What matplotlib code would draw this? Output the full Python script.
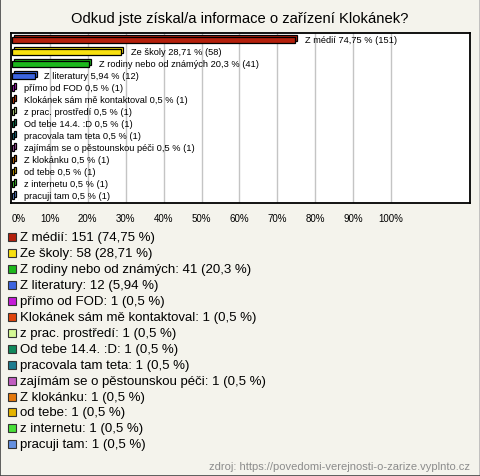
import numpy as np
import matplotlib
matplotlib.use("Agg")
import matplotlib.pyplot as plt
from matplotlib.patches import Rectangle
from matplotlib.transforms import ScaledTranslation

plt.rcParams['font.family'] = ['Liberation Sans', 'DejaVu Sans']

# -------------------------------------------------
# dados
# -------------------------------------------------

title = "Odkud jste získal/a informace o zařízení Klokánek?"
source = "zdroj: https://povedomi-verejnosti-o-zarize.vyplnto.cz"

labels = [
    "Z médií", "Ze školy", "Z rodiny nebo od známých", "Z literatury",
    "přímo od FOD", "Klokánek sám mě kontaktoval", "z prac. prostředí",
    "Od tebe 14.4. :D", "pracovala tam teta", "zajímám se o pěstounskou péči",
    "Z klokánku", "od tebe", "z internetu", "pracuji tam",
]
counts = [151, 58, 41, 12, 1, 1, 1, 1, 1, 1, 1, 1, 1, 1]
percents = [74.75, 28.71, 20.3, 5.94, 0.5, 0.5, 0.5, 0.5, 0.5, 0.5, 0.5, 0.5, 0.5, 0.5]
colors = [
    "#b4200c", "#f8e010", "#1cb81c", "#3c64e0", "#c41cd8", "#e0440c",
    "#d4f894", "#10885c", "#1c7c90", "#c05cc0", "#e4780c", "#e4b400",
    "#48e038", "#6490e0",
]
xticks = [0, 10, 20, 30, 40, 50, 60, 70, 80, 90, 100]

bg = "#f4f3ec"


def fmt(p):
    return f"{p:g}".replace(".", ",")


# -------------------------------------------------
# figura
# -------------------------------------------------

fig = plt.figure(figsize=(4.8, 4.77), dpi=100, facecolor=bg)
W, H = 480, 477

fig.text(0.5, 1 - 18.5 / H, title, ha="center", va="center", fontsize=10.6)

ax = fig.add_axes([11 / W, 1 - 204 / H, 459 / W, 170 / H])
ax.set_facecolor("white")
px = 10 / 37.9
ax.set_xlim(-1 * px, 458 * px)
n = len(labels)
ax.set_ylim(n - 0.42, -0.58)

for x in xticks[1:]:
    ax.axvline(x, color="#c4c4c4", lw=1, zorder=0)

# barras com efeito 3D (copia deslocada atras)
y = np.arange(n)
shift = ax.transData + ScaledTranslation(2 / 100, 2 / 100, fig.dpi_scale_trans)
ax.barh(y, percents, height=0.44, color=colors, edgecolor="black",
        linewidth=0.9, transform=shift, zorder=2)
ax.barh(y, percents, height=0.44, color=colors, edgecolor="black",
        linewidth=0.9, zorder=3)

for i in range(n):
    ax.annotate(f"{labels[i]} {fmt(percents[i])} % ({counts[i]})",
                xy=(percents[i], i), xytext=(7, 0.5), textcoords="offset points",
                ha="left", va="center", fontsize=6.7, zorder=4)

ax.set_yticks([])
ax.set_xticks(xticks)
ax.set_xticklabels([f"{x}%" for x in xticks], fontsize=7)
ax.tick_params(axis="x", length=0, pad=7.5)
ax.get_xticklabels()[0].set_horizontalalignment("left")
for s in ax.spines.values():
    s.set_linewidth(1.3)
    s.set_color("black")

# legenda
for i in range(n):
    yc = 1 - (238 + 15.95 * i) / H
    fig.patches.append(Rectangle((8 / W, yc - 4 / H), 8 / W, 8 / H,
                                 transform=fig.transFigure, facecolor=colors[i],
                                 edgecolor="#333333", linewidth=0.8))
    fig.text(20.5 / W, yc, f"{labels[i]}: {counts[i]} ({fmt(percents[i])} %)",
             ha="left", va="center", fontsize=9.5)

fig.text(470 / W, 1 - 467 / H, source, ha="right", va="center",
         fontsize=8, color="#8c8c8c")

# moldura externa
fig.add_artist(plt.Line2D([0, 1], [0.999, 0.999], transform=fig.transFigure, color="#b8b8b8", lw=1.2))
fig.add_artist(plt.Line2D([0.999, 0.999], [0, 1], transform=fig.transFigure, color="#b8b8b8", lw=1.2))
fig.add_artist(plt.Line2D([0.001, 0.001], [0, 1], transform=fig.transFigure, color="#444444", lw=1.2))
fig.add_artist(plt.Line2D([0, 1], [0.001, 0.001], transform=fig.transFigure, color="#444444", lw=1.2))

fig.savefig("out.png", dpi=100, facecolor=bg)
